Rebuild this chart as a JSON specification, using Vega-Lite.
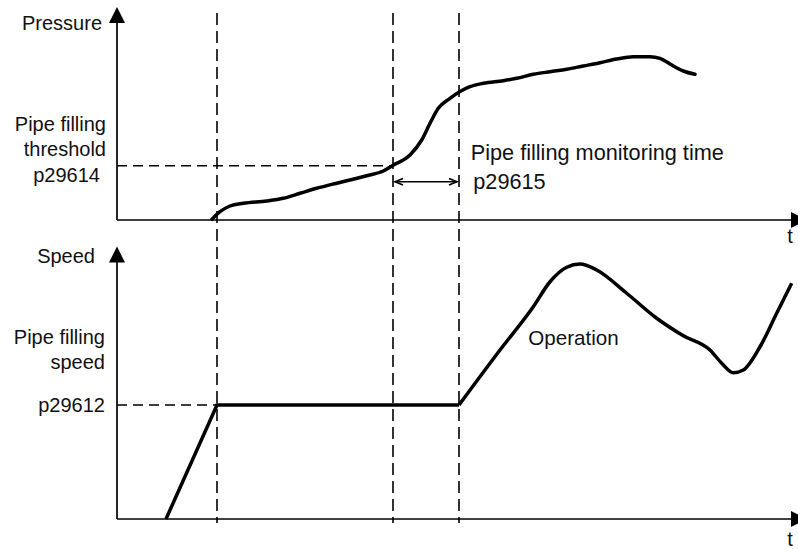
{
  "$schema": "https://vega.github.io/schema/vega-lite/v6.json",
  "width": 798,
  "height": 549,
  "padding": 0,
  "autosize": {"type": "none"},
  "background": "white",
  "config": {"view": {"stroke": null}},
  "datasets": {
    "pressure": [
      {"t": 0.95, "P": 0.014}, {"t": 1.03, "P": 0.166}, {"t": 1.13, "P": 0.28}, {"t": 1.263, "P": 0.334},
      {"t": 1.497, "P": 0.38}, {"t": 1.663, "P": 0.434}, {"t": 1.83, "P": 0.534}, {"t": 1.997, "P": 0.634},
      {"t": 2.163, "P": 0.72}, {"t": 2.33, "P": 0.80}, {"t": 2.497, "P": 0.886}, {"t": 2.663, "P": 0.98},
      {"t": 2.757, "P": 1.09}, {"t": 2.93, "P": 1.30}, {"t": 3.047, "P": 1.60}, {"t": 3.13, "P": 1.934},
      {"t": 3.213, "P": 2.234}, {"t": 3.33, "P": 2.434}, {"t": 3.43, "P": 2.57}, {"t": 3.53, "P": 2.666},
      {"t": 3.663, "P": 2.734}, {"t": 3.863, "P": 2.786}, {"t": 3.997, "P": 2.834}, {"t": 4.163, "P": 2.914},
      {"t": 4.33, "P": 2.966}, {"t": 4.497, "P": 3.014}, {"t": 4.663, "P": 3.08}, {"t": 4.83, "P": 3.146},
      {"t": 4.997, "P": 3.22}, {"t": 5.163, "P": 3.266}, {"t": 5.33, "P": 3.266}, {"t": 5.43, "P": 3.234},
      {"t": 5.53, "P": 3.12}, {"t": 5.663, "P": 2.98}, {"t": 5.78, "P": 2.914}
    ],
    "speed": [
      {"seg": "filling", "t": 0.49, "S": 0},
      {"seg": "filling", "t": 1.0, "S": 45.6},
      {"seg": "filling", "t": 3.42, "S": 45.6},
      {"seg": "operation", "t": 3.42, "S": 45.6},
      {"seg": "operation", "t": 3.83, "S": 67.6},
      {"seg": "operation", "t": 4.163, "S": 84.9},
      {"seg": "operation", "t": 4.33, "S": 94.9},
      {"seg": "operation", "t": 4.497, "S": 100.7},
      {"seg": "operation", "t": 4.63, "S": 102},
      {"seg": "operation", "t": 4.797, "S": 99.6},
      {"seg": "operation", "t": 5.097, "S": 90.3},
      {"seg": "operation", "t": 5.397, "S": 80.3},
      {"seg": "operation", "t": 5.663, "S": 73.3},
      {"seg": "operation", "t": 5.93, "S": 67.6},
      {"seg": "operation", "t": 6.047, "S": 62.3},
      {"seg": "operation", "t": 6.163, "S": 58.5},
      {"seg": "operation", "t": 6.263, "S": 59.6},
      {"seg": "operation", "t": 6.43, "S": 68.9},
      {"seg": "operation", "t": 6.597, "S": 82.3},
      {"seg": "operation", "t": 6.747, "S": 94.3}
    ],
    "markers": [
      {"event": "p29612 reached", "t": 1.0},
      {"event": "p29614 reached", "t": 2.76},
      {"event": "p29615 elapsed", "t": 3.42}
    ],
    "labels": [
      {"panel": "P", "align": "right", "text": "Pressure", "t": -0.15, "v": 3.8},
      {"panel": "P", "align": "right", "text": "Pipe filling", "t": -0.11, "v": 1.786},
      {"panel": "P", "align": "right", "text": "threshold", "t": -0.11, "v": 1.28},
      {"panel": "P", "align": "right", "text": "p29614", "t": -0.17, "v": 0.766},
      {"panel": "P", "align": "left", "text": "Pipe filling monitoring time", "t": 3.537, "v": 1.2},
      {"panel": "P", "align": "left", "text": "p29615", "t": 3.563, "v": 0.62},
      {"panel": "P", "align": "center", "text": "t", "t": 6.73, "v": -0.466},
      {"panel": "S", "align": "right", "text": "Speed", "t": -0.22, "v": 102.5},
      {"panel": "S", "align": "right", "text": "Pipe filling", "t": -0.12, "v": 70},
      {"panel": "S", "align": "right", "text": "speed", "t": -0.12, "v": 59.9},
      {"panel": "S", "align": "right", "text": "p29612", "t": -0.12, "v": 42.7},
      {"panel": "S", "align": "left", "text": "Operation", "t": 4.113, "v": 69.6},
      {"panel": "S", "align": "center", "text": "t", "t": 6.73, "v": -10.8}
    ],
    "axes": [
      {"panel": "P", "t0": 0, "t1": 0, "v0": 0, "v1": 3.94},
      {"panel": "P", "t0": 0, "t1": 6.75, "v0": 0, "v1": 0},
      {"panel": "S", "t0": 0, "t1": 0, "v0": 0, "v1": 102.8},
      {"panel": "S", "t0": 0, "t1": 6.75, "v0": 0, "v1": 0}
    ],
    "arrowheads": [
      {"panel": "P", "dir": "up", "t": 0, "v": 4.1},
      {"panel": "P", "dir": "right", "t": 6.82, "v": 0},
      {"panel": "S", "dir": "up", "t": 0, "v": 105.8},
      {"panel": "S", "dir": "right", "t": 6.82, "v": 0}
    ]
  },
  "layer": [
    {
      "data": {"name": "markers"},
      "mark": {"type": "rule", "strokeDash": [12, 6], "strokeWidth": 1.6, "color": "#000"},
      "encoding": {
        "x": {"field": "t", "type": "quantitative", "scale": {"domain": [-1.17, 6.81], "nice": false, "zero": false}, "axis": null},
        "y": {"datum": 202.4, "type": "quantitative", "scale": {"domain": [-12, 207.6], "nice": false, "zero": false}, "axis": null},
        "y2": {"datum": -1.6}
      }
    },
    {
      "data": {"values": [{"param": "p29614", "t0": 0, "t1": 2.76, "P": 1.086}]},
      "mark": {"type": "rule", "strokeDash": [10, 6], "strokeWidth": 1.6, "color": "#000"},
      "encoding": {
        "x": {"field": "t0", "type": "quantitative", "scale": {"domain": [-1.17, 6.81], "nice": false, "zero": false}, "axis": null},
        "x2": {"field": "t1"},
        "y": {"field": "P", "type": "quantitative", "scale": {"domain": [-6.58, 4.4], "nice": false, "zero": false}, "axis": null}
      }
    },
    {
      "data": {"values": [{"param": "p29612", "t0": 0, "t1": 1.0, "S": 45.6}]},
      "mark": {"type": "rule", "strokeDash": [10, 6], "strokeWidth": 1.6, "color": "#000"},
      "encoding": {
        "x": {"field": "t0", "type": "quantitative", "scale": {"domain": [-1.17, 6.81], "nice": false, "zero": false}, "axis": null},
        "x2": {"field": "t1"},
        "y": {"field": "S", "type": "quantitative", "scale": {"domain": [-12, 207.6], "nice": false, "zero": false}, "axis": null}
      }
    },
    {
      "data": {"name": "axes"},
      "transform": [{"filter": "datum.panel === 'P'"}],
      "mark": {"type": "rule", "strokeWidth": 1.7, "color": "#000"},
      "encoding": {
        "x": {"field": "t0", "type": "quantitative", "scale": {"domain": [-1.17, 6.81], "nice": false, "zero": false}, "axis": null},
        "x2": {"field": "t1"},
        "y": {"field": "v0", "type": "quantitative", "scale": {"domain": [-6.58, 4.4], "nice": false, "zero": false}, "axis": null},
        "y2": {"field": "v1"}
      }
    },
    {
      "data": {"name": "axes"},
      "transform": [{"filter": "datum.panel === 'S'"}],
      "mark": {"type": "rule", "strokeWidth": 1.7, "color": "#000"},
      "encoding": {
        "x": {"field": "t0", "type": "quantitative", "scale": {"domain": [-1.17, 6.81], "nice": false, "zero": false}, "axis": null},
        "x2": {"field": "t1"},
        "y": {"field": "v0", "type": "quantitative", "scale": {"domain": [-12, 207.6], "nice": false, "zero": false}, "axis": null},
        "y2": {"field": "v1"}
      }
    },
    {
      "data": {"name": "arrowheads"},
      "transform": [{"filter": "datum.panel === 'P'"}],
      "mark": {"type": "point", "filled": true, "size": 256, "opacity": 1, "color": "#000", "strokeWidth": 0},
      "encoding": {
        "x": {"field": "t", "type": "quantitative", "scale": {"domain": [-1.17, 6.81], "nice": false, "zero": false}, "axis": null},
        "y": {"field": "v", "type": "quantitative", "scale": {"domain": [-6.58, 4.4], "nice": false, "zero": false}, "axis": null},
        "shape": {"field": "dir", "type": "nominal", "scale": {"domain": ["up", "right"], "range": ["M-1,1L0,-1L1,1Z", "M-1,-1L1,0L-1,1Z"]}, "legend": null}
      }
    },
    {
      "data": {"name": "arrowheads"},
      "transform": [{"filter": "datum.panel === 'S'"}],
      "mark": {"type": "point", "filled": true, "size": 256, "opacity": 1, "color": "#000", "strokeWidth": 0},
      "encoding": {
        "x": {"field": "t", "type": "quantitative", "scale": {"domain": [-1.17, 6.81], "nice": false, "zero": false}, "axis": null},
        "y": {"field": "v", "type": "quantitative", "scale": {"domain": [-12, 207.6], "nice": false, "zero": false}, "axis": null},
        "shape": {"field": "dir", "type": "nominal", "scale": {"domain": ["up", "right"], "range": ["M-1,1L0,-1L1,1Z", "M-1,-1L1,0L-1,1Z"]}, "legend": null}
      }
    },
    {
      "data": {"name": "pressure"},
      "mark": {"type": "line", "interpolate": "monotone", "strokeWidth": 3.5, "color": "#000", "strokeCap": "round"},
      "encoding": {
        "x": {"field": "t", "type": "quantitative", "scale": {"domain": [-1.17, 6.81], "nice": false, "zero": false}, "axis": null},
        "y": {"field": "P", "type": "quantitative", "scale": {"domain": [-6.58, 4.4], "nice": false, "zero": false}, "axis": null}
      }
    },
    {
      "data": {"name": "speed"},
      "transform": [{"filter": "datum.seg === 'filling'"}],
      "mark": {"type": "line", "interpolate": "linear", "strokeWidth": 3.5, "color": "#000", "strokeJoin": "miter"},
      "encoding": {
        "x": {"field": "t", "type": "quantitative", "scale": {"domain": [-1.17, 6.81], "nice": false, "zero": false}, "axis": null},
        "y": {"field": "S", "type": "quantitative", "scale": {"domain": [-12, 207.6], "nice": false, "zero": false}, "axis": null}
      }
    },
    {
      "data": {"name": "speed"},
      "transform": [{"filter": "datum.seg === 'operation'"}],
      "mark": {"type": "line", "interpolate": "monotone", "strokeWidth": 3.5, "color": "#000"},
      "encoding": {
        "x": {"field": "t", "type": "quantitative", "scale": {"domain": [-1.17, 6.81], "nice": false, "zero": false}, "axis": null},
        "y": {"field": "S", "type": "quantitative", "scale": {"domain": [-12, 207.6], "nice": false, "zero": false}, "axis": null}
      }
    },
    {
      "data": {"values": [{"param": "p29615", "t0": 2.78, "t1": 3.40, "P": 0.766}]},
      "mark": {"type": "rule", "strokeWidth": 1.6, "color": "#000"},
      "encoding": {
        "x": {"field": "t0", "type": "quantitative", "scale": {"domain": [-1.17, 6.81], "nice": false, "zero": false}, "axis": null},
        "x2": {"field": "t1"},
        "y": {"field": "P", "type": "quantitative", "scale": {"domain": [-6.58, 4.4], "nice": false, "zero": false}, "axis": null}
      }
    },
    {
      "data": {"values": [{"end": "start", "t": 2.82, "P": 0.766}, {"end": "finish", "t": 3.36, "P": 0.766}]},
      "mark": {"type": "point", "filled": false, "size": 64, "opacity": 1, "color": "#000", "strokeWidth": 1.6},
      "encoding": {
        "x": {"field": "t", "type": "quantitative", "scale": {"domain": [-1.17, 6.81], "nice": false, "zero": false}, "axis": null},
        "y": {"field": "P", "type": "quantitative", "scale": {"domain": [-6.58, 4.4], "nice": false, "zero": false}, "axis": null},
        "shape": {"field": "end", "type": "nominal", "scale": {"domain": ["start", "finish"], "range": ["M1,-0.8L-1,0L1,0.8", "M-1,-0.8L1,0L-1,0.8"]}, "legend": null}
      }
    },
    {
      "data": {"name": "labels"},
      "transform": [{"filter": "datum.panel === 'P' && datum.align === 'right'"}],
      "mark": {"type": "text", "align": "right", "baseline": "alphabetic", "font": "Liberation Sans", "fontSize": 20, "color": "#111"},
      "encoding": {
        "x": {"field": "t", "type": "quantitative", "scale": {"domain": [-1.17, 6.81], "nice": false, "zero": false}, "axis": null},
        "y": {"field": "v", "type": "quantitative", "scale": {"domain": [-6.58, 4.4], "nice": false, "zero": false}, "axis": null},
        "text": {"field": "text"}
      }
    },
    {
      "data": {"name": "labels"},
      "transform": [{"filter": "datum.panel === 'P' && datum.align === 'left'"}],
      "mark": {"type": "text", "align": "left", "baseline": "alphabetic", "font": "Liberation Sans", "fontSize": 21.7, "color": "#111"},
      "encoding": {
        "x": {"field": "t", "type": "quantitative", "scale": {"domain": [-1.17, 6.81], "nice": false, "zero": false}, "axis": null},
        "y": {"field": "v", "type": "quantitative", "scale": {"domain": [-6.58, 4.4], "nice": false, "zero": false}, "axis": null},
        "text": {"field": "text"}
      }
    },
    {
      "data": {"name": "labels"},
      "transform": [{"filter": "datum.panel === 'P' && datum.align === 'center'"}],
      "mark": {"type": "text", "align": "center", "baseline": "alphabetic", "font": "Liberation Sans", "fontSize": 20, "color": "#111"},
      "encoding": {
        "x": {"field": "t", "type": "quantitative", "scale": {"domain": [-1.17, 6.81], "nice": false, "zero": false}, "axis": null},
        "y": {"field": "v", "type": "quantitative", "scale": {"domain": [-6.58, 4.4], "nice": false, "zero": false}, "axis": null},
        "text": {"field": "text"}
      }
    },
    {
      "data": {"name": "labels"},
      "transform": [{"filter": "datum.panel === 'S' && datum.align === 'right'"}],
      "mark": {"type": "text", "align": "right", "baseline": "alphabetic", "font": "Liberation Sans", "fontSize": 20, "color": "#111"},
      "encoding": {
        "x": {"field": "t", "type": "quantitative", "scale": {"domain": [-1.17, 6.81], "nice": false, "zero": false}, "axis": null},
        "y": {"field": "v", "type": "quantitative", "scale": {"domain": [-12, 207.6], "nice": false, "zero": false}, "axis": null},
        "text": {"field": "text"}
      }
    },
    {
      "data": {"name": "labels"},
      "transform": [{"filter": "datum.panel === 'S' && datum.align === 'left'"}],
      "mark": {"type": "text", "align": "left", "baseline": "alphabetic", "font": "Liberation Sans", "fontSize": 20.6, "color": "#111"},
      "encoding": {
        "x": {"field": "t", "type": "quantitative", "scale": {"domain": [-1.17, 6.81], "nice": false, "zero": false}, "axis": null},
        "y": {"field": "v", "type": "quantitative", "scale": {"domain": [-12, 207.6], "nice": false, "zero": false}, "axis": null},
        "text": {"field": "text"}
      }
    },
    {
      "data": {"name": "labels"},
      "transform": [{"filter": "datum.panel === 'S' && datum.align === 'center'"}],
      "mark": {"type": "text", "align": "center", "baseline": "alphabetic", "font": "Liberation Sans", "fontSize": 20, "color": "#111"},
      "encoding": {
        "x": {"field": "t", "type": "quantitative", "scale": {"domain": [-1.17, 6.81], "nice": false, "zero": false}, "axis": null},
        "y": {"field": "v", "type": "quantitative", "scale": {"domain": [-12, 207.6], "nice": false, "zero": false}, "axis": null},
        "text": {"field": "text"}
      }
    }
  ],
  "resolve": {"scale": {"y": "independent", "shape": "independent"}}
}
